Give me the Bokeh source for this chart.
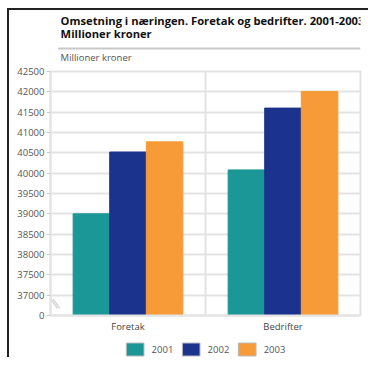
from bokeh.plotting import figure
from bokeh.layouts import column
from bokeh.models import (FactorRange, Range1d, FixedTicker, Label, Span,
                          ColumnDataSource)
from bokeh.core.properties import value
from bokeh.transform import dodge
from bokeh.embed import file_html
from bokeh.resources import INLINE

categories = ["Foretak", "Bedrifter"]
years = ["2001", "2002", "2003"]
v2001 = [39000, 40080]
v2002 = [40520, 41600]
v2003 = [40770, 42010]
colors = ["#1b9797", "#1b338c", "#f69b38"]
tick_values = [36500, 37000, 37500, 38000, 38500, 39000, 39500, 40000,
               40500, 41000, 41500, 42000, 42500]
tick_labels = ["0", "37000", "37500", "38000", "38500", "39000", "39500",
               "40000", "40500", "41000", "41500", "42000", "42500"]
base = 36500
title1 = "Omsetning i næringen. Foretak og bedrifter. 2001-2003."
title2 = "Millioner kroner"
unit_label = "Millioner kroner"

FONT = "Open Sans"
W = 368
LEFT_LINE = "linear-gradient(#222222, #222222) 7px 0px / 2px 100% no-repeat"
TOP_LINE = "linear-gradient(#222222, #222222) 7px 8px / 100% 2px no-repeat"
LEFT_LINE_H = "linear-gradient(#222222, #222222) 7px 8px / 2px 100% no-repeat"

# ---- header (titles + separator) ----
HH = 64
header = figure(width=W, height=HH, x_range=Range1d(0, W), y_range=Range1d(HH, 0),
                x_axis_type=None, y_axis_type=None, output_backend="svg",
                toolbar_location=None, min_border=0,
                styles={"background": f"{LEFT_LINE_H}, {TOP_LINE}, #ffffff"})
header.outline_line_color = None
header.grid.visible = False
header.border_fill_alpha = 0
header.background_fill_alpha = 0
header.add_layout(Label(x=12, y=20, text=title1, text_font=FONT, text_font_style="bold",
                        text_font_size="11.2px", text_color="#111111", text_baseline="middle"))
header.add_layout(Label(x=12, y=33, text=title2, text_font=FONT, text_font_style="bold",
                        text_font_size="11.2px", text_color="#111111", text_baseline="middle"))
header.segment(x0=[9], y0=[48], x1=[W], y1=[48], line_color="#c8c8c8", line_width=2)
header.add_layout(Label(x=12, y=57, text=unit_label, text_font=FONT, text_font_size="9.5px",
                        text_color="#555555", text_baseline="middle"))

# ---- main chart ----
FH = 22
MH = 271
p = figure(width=W, height=MH, x_range=FactorRange(*categories, range_padding=0),
           y_range=Range1d(base, 42500), output_backend="svg", toolbar_location=None,
           min_border_left=50, min_border_right=8, min_border_top=7, min_border_bottom=20,
           styles={"background": f"{LEFT_LINE}, #ffffff"})
p.border_fill_alpha = 0

source = ColumnDataSource(dict(cat=categories, y2001=v2001, y2002=v2002, y2003=v2003))
bw = 0.236
for i, (yr, col) in enumerate(zip(years, colors)):
    p.vbar(x=dodge("cat", (i - 1) * bw, range=p.x_range), top="y" + yr, bottom=base,
           width=bw, source=source, fill_color=col, line_color=col, line_width=1)

p.outline_line_color = "#e3e3e3"
p.outline_line_width = 2
p.ygrid.grid_line_color = "#e3e3e3"
p.ygrid.grid_line_width = 2
p.xgrid.grid_line_color = None
p.add_layout(Span(location=1, dimension="height", line_color="#e3e3e3", line_width=2))

# axis-break marks between "0" and the first real tick
brk_y0 = base + 0.8 * (tick_values[1] - base)
brk_y1 = base + 0.35 * (tick_values[1] - base)
p.segment(x0=[0.003, 0.018], y0=[brk_y0, brk_y0], x1=[0.045, 0.06], y1=[brk_y1, brk_y1],
          line_color="#d6d6d6", line_width=1.5)

p.yaxis.ticker = FixedTicker(ticks=tick_values)
p.yaxis.major_label_overrides = {v: l for v, l in zip(tick_values, tick_labels)}
p.yaxis.axis_line_color = "#e3e3e3"
p.yaxis.axis_line_width = 2
p.yaxis.major_tick_line_color = "#cccccc"
p.yaxis.major_tick_in = 0
p.yaxis.major_tick_out = 4
p.yaxis.minor_tick_line_color = None
p.yaxis.major_label_text_font = FONT
p.yaxis.major_label_text_font_size = "9.5px"
p.yaxis.major_label_text_color = "#555555"
p.yaxis.major_label_standoff = 2

p.xaxis.axis_line_color = "#e3e3e3"
p.xaxis.axis_line_width = 2
p.xaxis.major_tick_line_color = None
p.xaxis.major_tick_in = 0
p.xaxis.major_tick_out = 0
p.xaxis.minor_tick_line_color = None
p.xaxis.major_label_text_font = FONT
p.xaxis.major_label_text_font_size = "9.5px"
p.xaxis.major_label_text_color = "#444444"
p.xaxis.major_label_standoff = 4

# ---- footer legend ----
footer = figure(width=W, height=FH, x_range=Range1d(0, W), y_range=Range1d(FH, 0),
                x_axis_type=None, y_axis_type=None, output_backend="svg",
                toolbar_location=None, min_border=0,
                styles={"background": f"{LEFT_LINE}, #ffffff"})
footer.outline_line_color = None
footer.grid.visible = False
footer.border_fill_alpha = 0
footer.background_fill_alpha = 0
step = 66.5
sw_x = [100.5 + i * step for i in range(len(years))]
lab_x = [x + 19.5 for x in sw_x]
footer.rect(x=sw_x, y=[14] * len(years), width=21, height=13, fill_color=colors,
            line_color="#bbbbbb", line_width=1)
footer.text(x=lab_x, y=[14] * len(years), text=years, text_font=value(FONT),
            text_font_size="9.5px", text_color="#555555", text_baseline="middle")

layout = column(header, p, footer, spacing=0)

open("out.html", "w").write(file_html(layout, INLINE))
